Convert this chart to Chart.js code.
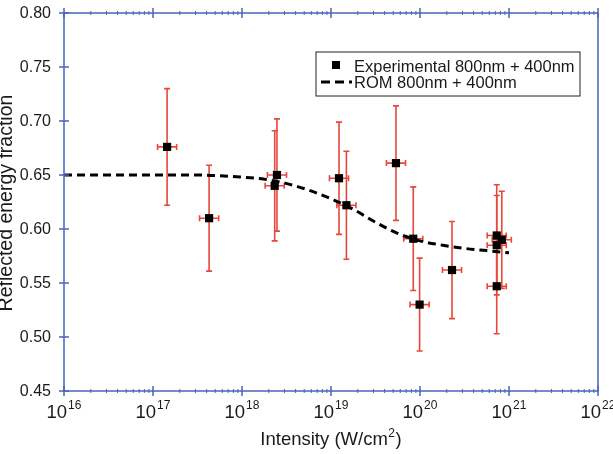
<!DOCTYPE html>
<html>
<head>
<meta charset="utf-8">
<script src="https://cdn.jsdelivr.net/npm/chart.js@4"></script>
<style>
  body { margin: 0; background: #fff; }
  canvas { display: block; }
</style>
</head>
<body>
<canvas id="chart" width="613" height="454"></canvas>
<script>
// measured points (intensity W/cm2, reflected fraction, vertical error)
const intensity = [1.44e17, 4.27e17, 2.47e18, 2.33e18, 1.23e19, 1.49e19, 5.37e19, 8.4e19, 9.9e19, 2.29e20, 7.28e20, 8.3e20, 7.28e20, 7.28e20];
const reflected = [0.676, 0.610, 0.650, 0.640, 0.647, 0.622, 0.661, 0.591, 0.530, 0.562, 0.594, 0.590, 0.585, 0.547];
const yError    = [0.054, 0.049, 0.052, 0.051, 0.052, 0.050, 0.053, 0.048, 0.043, 0.045, 0.047, 0.045, 0.046, 0.044];
const xErrFactor = 1.28;

// ROM model curve
const romIntensity = [1e16, 1e17, 3.2e17, 1e18, 1.8e18, 3.2e18, 5.6e18, 1e19, 1.8e19, 3.2e19, 5.6e19, 1e20, 1.8e20, 3.2e20, 5.6e20, 1e21];
const romValues    = [0.650, 0.650, 0.650, 0.648, 0.646, 0.642, 0.636, 0.628, 0.618, 0.606, 0.596, 0.589, 0.585, 0.582, 0.580, 0.578];

const xDecades = [16, 17, 18, 19, 20, 21, 22];
const yTicks = [0.45, 0.50, 0.55, 0.60, 0.65, 0.70, 0.75, 0.80];

const FONT = '"Liberation Sans", Arial, sans-serif';
const AXIS = '#4866b8';
const RED = '#e8473b';
const TEXT = '#1a1a1a';

const decorations = {
  id: 'decorations',
  beforeDatasetsDraw(chart) {
    const ctx = chart.ctx, xs = chart.scales.x, ys = chart.scales.y;
    ctx.save();
    ctx.strokeStyle = RED;
    ctx.lineWidth = 1.6;
    intensity.forEach((v, i) => {
      const x = xs.getPixelForValue(v);
      const y = ys.getPixelForValue(reflected[i]);
      const yt = ys.getPixelForValue(reflected[i] + yError[i]);
      const yb = ys.getPixelForValue(reflected[i] - yError[i]);
      const xl = xs.getPixelForValue(v / xErrFactor);
      const xr = xs.getPixelForValue(v * xErrFactor);
      ctx.beginPath();
      ctx.moveTo(x, yt); ctx.lineTo(x, yb);
      ctx.moveTo(x - 3, yt); ctx.lineTo(x + 3, yt);
      ctx.moveTo(x - 3, yb); ctx.lineTo(x + 3, yb);
      ctx.moveTo(xl, y); ctx.lineTo(xr, y);
      ctx.moveTo(xl, y - 3); ctx.lineTo(xl, y + 3);
      ctx.moveTo(xr, y - 3); ctx.lineTo(xr, y + 3);
      ctx.stroke();
    });
    ctx.restore();
  },
  afterDatasetsDraw(chart) {
    const ctx = chart.ctx, xs = chart.scales.x, ys = chart.scales.y;
    const a = chart.chartArea;
    ctx.save();
    // frame
    ctx.strokeStyle = AXIS;
    ctx.lineWidth = 1.5;
    ctx.strokeRect(a.left, a.top, a.right - a.left, a.bottom - a.top);
    // major ticks
    ctx.beginPath();
    xDecades.forEach(e => {
      const x = xs.getPixelForValue(Math.pow(10, e));
      ctx.moveTo(x, a.bottom - 5); ctx.lineTo(x, a.bottom + 5);
      ctx.moveTo(x, a.top - 5); ctx.lineTo(x, a.top + 5);
    });
    yTicks.forEach(v => {
      const y = ys.getPixelForValue(v);
      ctx.moveTo(a.left - 5, y); ctx.lineTo(a.left + 5, y);
    });
    ctx.stroke();
    // minor ticks
    ctx.lineWidth = 1;
    ctx.beginPath();
    xDecades.slice(0, -1).forEach(e => {
      for (let k = 2; k <= 9; k++) {
        const xm = xs.getPixelForValue(k * Math.pow(10, e));
        ctx.moveTo(xm, a.bottom - 2); ctx.lineTo(xm, a.bottom + 2);
        ctx.moveTo(xm, a.top - 2); ctx.lineTo(xm, a.top + 2);
      }
    });
    ctx.stroke();

    // y tick labels
    ctx.fillStyle = TEXT;
    ctx.font = '16px ' + FONT;
    ctx.textAlign = 'right';
    ctx.textBaseline = 'middle';
    yTicks.forEach(v => {
      ctx.fillText(v.toFixed(2), a.left - 13, ys.getPixelForValue(v) + 1);
    });

    // x tick labels 10^n
    ctx.textAlign = 'left';
    ctx.textBaseline = 'alphabetic';
    xDecades.forEach(e => {
      const x = xs.getPixelForValue(Math.pow(10, e));
      ctx.font = '18.5px ' + FONT;
      const wb = ctx.measureText('10').width;
      ctx.font = '12px ' + FONT;
      const we = ctx.measureText(String(e)).width;
      const x0 = x - (wb + we + 1) / 2;
      ctx.font = '18.5px ' + FONT;
      ctx.fillText('10', x0, 418);
      ctx.font = '12px ' + FONT;
      ctx.fillText(String(e), x0 + wb + 1, 408.5);
    });

    // x axis title
    ctx.font = '18.5px ' + FONT;
    const t1 = 'Intensity (W/cm', t3 = ')';
    const w1 = ctx.measureText(t1).width, w3 = ctx.measureText(t3).width;
    ctx.font = '12px ' + FONT;
    const w2 = ctx.measureText('2').width;
    const cx = (a.left + a.right) / 2;
    const sx = cx - (w1 + w2 + w3 + 1) / 2;
    ctx.font = '18.5px ' + FONT;
    ctx.fillText(t1, sx, 445);
    ctx.fillText(t3, sx + w1 + w2 + 1, 445);
    ctx.font = '12px ' + FONT;
    ctx.fillText('2', sx + w1 + 0.5, 437);

    // y axis title
    ctx.save();
    ctx.translate(11.5, (a.top + a.bottom) / 2 + 1);
    ctx.rotate(-Math.PI / 2);
    ctx.font = '19.5px ' + FONT;
    ctx.textAlign = 'center';
    ctx.fillText('Reflected energy fraction', 0, 0);
    ctx.restore();

    // legend
    ctx.fillStyle = '#fff';
    ctx.fillRect(316, 52, 264, 44);
    ctx.strokeStyle = '#222';
    ctx.lineWidth = 1;
    ctx.strokeRect(316, 52, 264, 44);
    ctx.fillStyle = '#000';
    ctx.fillRect(332, 61, 8, 8);
    ctx.strokeStyle = '#000';
    ctx.lineWidth = 3;
    ctx.setLineDash([9, 5]);
    ctx.beginPath();
    ctx.moveTo(321, 82); ctx.lineTo(352, 82);
    ctx.stroke();
    ctx.setLineDash([]);
    ctx.fillStyle = TEXT;
    ctx.font = '16.5px ' + FONT;
    ctx.textAlign = 'left';
    ctx.fillText('Experimental 800nm + 400nm', 354, 72);
    ctx.fillText('ROM 800nm + 400nm', 354, 88);
    ctx.restore();
  }
};

new Chart(document.getElementById('chart'), {
  type: 'scatter',
  data: {
    datasets: [
      {
        label: 'Experimental 800nm + 400nm',
        data: intensity.map((v, i) => ({ x: v, y: reflected[i] })),
        pointStyle: 'rect',
        pointRadius: 5.8,
        backgroundColor: '#000',
        borderWidth: 0
      },
      {
        label: 'ROM 800nm + 400nm',
        type: 'line',
        data: romIntensity.map((v, i) => ({ x: v, y: romValues[i] })),
        borderColor: '#000',
        borderWidth: 3,
        borderDash: [8, 5],
        pointRadius: 0,
        cubicInterpolationMode: 'monotone',
        fill: false
      }
    ]
  },
  options: {
    responsive: false,
    devicePixelRatio: 1,
    animation: false,
    layout: { padding: { left: 64, right: 15, top: 13, bottom: 63 } },
    plugins: {
      legend: { display: false },
      tooltip: { enabled: false }
    },
    scales: {
      x: { type: 'logarithmic', min: 1e16, max: 1e22, display: false },
      y: { type: 'linear', min: 0.45, max: 0.80, display: false }
    }
  },
  plugins: [decorations]
});
</script>
</body>
</html>
